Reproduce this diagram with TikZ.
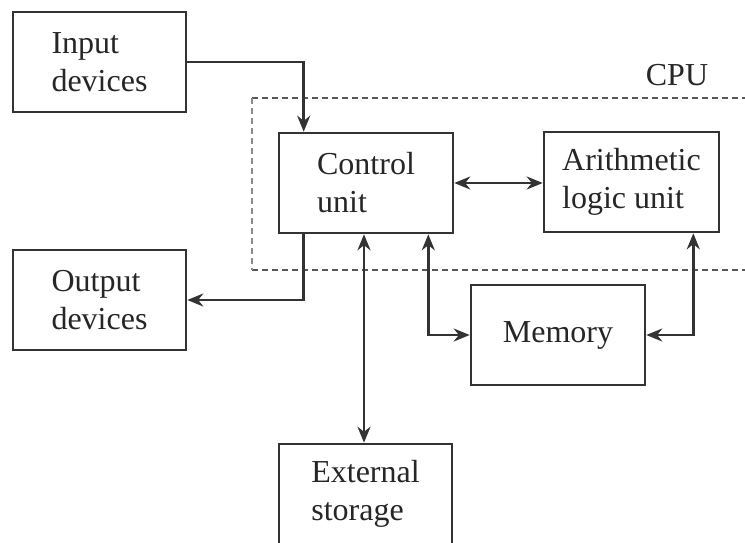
\documentclass[tikz,border=0pt]{standalone}
\usepackage{fontspec}
\newfontfamily\tnrfont{LiberationSerif}[Extension=.ttf,UprightFont=*-Regular,BoldFont=*-Bold]
\usetikzlibrary{arrows.meta}
\begin{document}
\begin{tikzpicture}[x=1pt,y=-1pt,
  lbl/.style={font=\tnrfont\fontsize{32}{38}\selectfont,text=black!85},
  box/.style={lbl,draw=black!80,line width=2.6pt,minimum width=173pt,minimum height=100pt,
    inner sep=0pt,align=left},
  tip/.style={},
  conn/.style={draw=black!80,line width=2.6pt,-{Stealth[length=16pt,width=13pt]}},
  bconn/.style={draw=black!80,line width=2.6pt,{Stealth[length=16pt,width=13pt]}-{Stealth[length=16pt,width=13pt]}},
  cpu/.style={draw=black!65,line width=2.6pt,dash pattern=on 6pt off 4pt}]
\useasboundingbox (0,0) rectangle (745,542);
\clip (0,0) rectangle (745,542);
\fill[white] (0,0) rectangle (745,542);
\draw[cpu] (252,98) -- (760,98);
\draw[cpu] (252,270) -- (760,270);
\draw[cpu,draw=black!45] (252,98) -- (252,270);
\node[lbl] (cpulabel) at (677,75) {CPU};
\node[box] (in) at (99.5,62) {Input\\devices};
\node[box] (out) at (99.5,300) {Output\\devices};
\node[box,minimum width=174pt] (cu) at (366,183) {Control\\unit};
\node[box,minimum width=175pt] (alu) at (631.5,182) {Arithmetic\\logic unit};
\node[box,minimum width=174pt] (mem) at (558,335) {Memory};
\node[box] (ext) at (365.5,494) {External\\storage};
\draw[conn] (in.east) -| ([xshift=26pt]cu.north west);
\draw[conn] ([xshift=26pt]cu.south west) |- (out.east);
\draw[bconn] (cu.east) -- (cu.east -| alu.west);
\draw[bconn] ([xshift=-2pt]cu.south) -- ([xshift=-2pt]cu.south |- ext.north);
\draw[bconn] ([xshift=-26pt]cu.south east) |- (mem.west);
\draw[bconn] ([xshift=-27pt]alu.south east) |- (mem.east);
\end{tikzpicture}
\end{document}
